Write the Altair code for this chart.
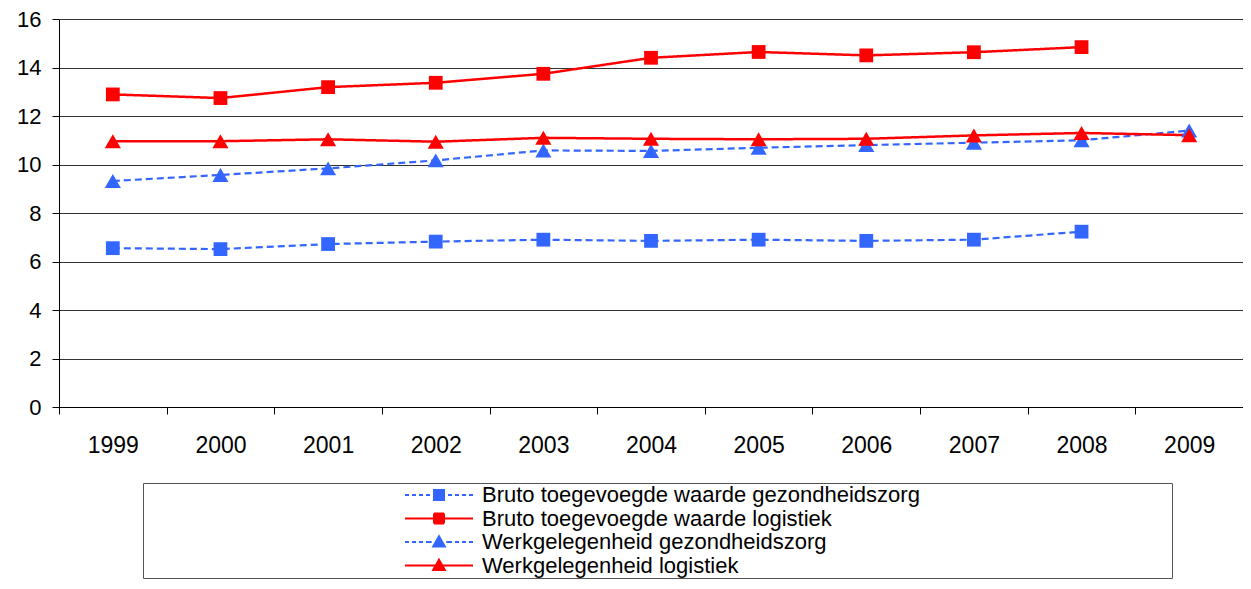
import altair as alt
import pandas as pd

years = [str(y) for y in range(1999, 2010)]

series_names = [
    "Bruto toegevoegde waarde gezondheidszorg",
    "Bruto toegevoegde waarde logistiek",
    "Werkgelegenheid gezondheidszorg",
    "Werkgelegenheid logistiek",
]

bruto_zorg = [6.55, 6.51, 6.72, 6.82, 6.90, 6.85, 6.90, 6.85, 6.90, 7.23, None]
bruto_log = [12.89, 12.74, 13.19, 13.37, 13.74, 14.40, 14.64, 14.50, 14.63, 14.84, None]
werk_zorg = [9.32, 9.57, 9.84, 10.17, 10.58, 10.56, 10.69, 10.80, 10.90, 11.00, 11.40]
werk_log = [10.96, 10.96, 11.04, 10.94, 11.10, 11.06, 11.04, 11.06, 11.20, 11.30, 11.21]

colors = ["#3366FF", "#FF0000", "#3366FF", "#FF0000"]
line_dashes = [[7, 4], [1, 0], [7, 4], [1, 0]]
# legend dash patterns: dashed line segments, then solid over the marker outline
legend_dashes = [
    [4, 3, 4, 3, 4, 3, 4, 4, 45, 0],
    [1, 0],
    [4, 3, 4, 3, 4, 3, 5.7, 4, 45, 0],
    [1, 0],
]
marker_shapes = ["square", "square", "triangle-up", "triangle-up"]
marker_sizes = [190, 190, 260, 260]
# legend symbols: a short line with the marker in the middle (unit = 10 px)
SQ = "M-3.4,0H-0.5V-0.5H0.5V0.5H-0.5V0M3.4,0H0.5"
TR = "M-3.4,0H-0.33L0,-0.58L0.58,0.45H-0.58L-0.33,0M3.4,0H0.33"
legend_shapes = [SQ, SQ, TR, TR]

rows = []
for name, vals in zip(series_names, [bruto_zorg, bruto_log, werk_zorg, werk_log]):
    for yr, v in zip(years, vals):
        if v is not None:
            rows.append({"year": yr, "series": name, "value": v})
df = pd.DataFrame(rows)

FONT = "Liberation Sans"

x_enc = alt.X(
    "year:O",
    bandPosition=0.5,
    scale=alt.Scale(type="band", paddingInner=0, paddingOuter=0, domain=years),
    axis=alt.Axis(
        title=None, labelAngle=0, tickBand="extent", grid=False,
        labelFont=FONT, labelFontSize=23, labelColor="black", labelPadding=20,
        tickSize=7, tickColor="black", domainColor="black", domainWidth=1,
    ),
)
y_enc = alt.Y(
    "value:Q",
    scale=alt.Scale(domain=[0, 16], nice=False, zero=True),
    axis=alt.Axis(
        title=None, values=[0, 2, 4, 6, 8, 10, 12, 14, 16], grid=True,
        gridColor="#333333", gridWidth=1,
        labelFont=FONT, labelFontSize=22, labelColor="black", labelPadding=11,
        tickSize=7, tickColor="black", domainColor="black", domainWidth=1,
    ),
)

base = alt.Chart(df)

layers = []
for i, name in enumerate(series_names):
    sub = base.transform_filter(alt.datum.series == name)
    layers.append(
        sub.mark_line(
            strokeDash=line_dashes[i], strokeWidth=2.5 if colors[i] == "#FF0000" else 2.2,
            color=colors[i],
        ).encode(x=x_enc, y=y_enc)
    )
for i, name in enumerate(series_names):
    sub = base.transform_filter(alt.datum.series == name)
    layers.append(
        sub.mark_point(
            shape=marker_shapes[i], filled=True, size=marker_sizes[i], opacity=1,
            color=colors[i],
        ).encode(x=x_enc, y=y_enc)
    )

# trailing spaces widen the legend box to the right; the zero-width space keeps them from being trimmed
pad_spaces = " " * 41 + "\u200b"
leg = alt.Legend(
    title=None, orient="none", legendX=84, legendY=464, direction="vertical",
    padding=1, rowPadding=1.5, symbolOffset=284, labelOffset=32,
    symbolSize=400, symbolStrokeWidth=2, symbolOpacity=1,
    labelFont=FONT, labelFontSize=22, labelColor="black", labelLimit=3000,
    labelExpr="datum.label + '" + pad_spaces + "'",
    strokeColor="#555555", fillColor="white",
)

legend_layer = base.mark_point().encode(
    x=x_enc, y=y_enc,
    fill=alt.Fill("series:N", scale=alt.Scale(domain=series_names, range=colors), legend=leg),
    stroke=alt.Stroke("series:N", scale=alt.Scale(domain=series_names, range=colors), legend=leg),
    shape=alt.Shape("series:N", scale=alt.Scale(domain=series_names, range=legend_shapes), legend=leg),
    strokeDash=alt.StrokeDash("series:N", scale=alt.Scale(domain=series_names, range=legend_dashes), legend=leg),
    opacity=alt.value(0),
)
layers.append(legend_layer)

chart = alt.layer(*layers).properties(
    width=1184, height=388,
    autosize=alt.AutoSizeParams(type="none"),
    padding={"left": 51, "top": 11, "right": 0, "bottom": 174},
).configure_view(stroke=None).configure(background="white")

chart.save("out.html", embed_options={"renderer": "svg", "actions": False})
